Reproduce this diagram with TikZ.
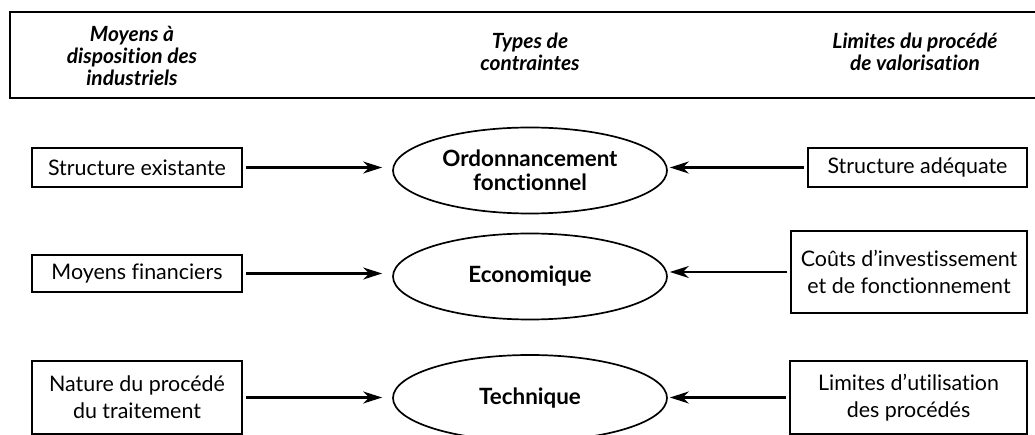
\documentclass[tikz,border=0pt]{standalone}
\usepackage{fontspec}
\setmainfont{Lato}[RawFeature={-liga;-clig;-dlig;-calt}]
\usetikzlibrary{arrows.meta,shapes.geometric}
\begin{document}
\begin{tikzpicture}[x=1bp,y=-1bp,
  box/.style={draw, line width=1.8bp, inner sep=0pt, align=center, font=\fontsize{21.5}{27}\selectfont},
  ell/.style={ellipse, draw, line width=1.7bp, minimum width=274bp, minimum height=86bp, inner sep=0pt, align=center, font=\bfseries\fontsize{22.5}{24}\selectfont},
  hdr/.style={align=center, font=\bfseries\itshape\fontsize{21}{22.5}\selectfont, inner sep=0pt},
  arr/.style={line width=2.4bp, -{Stealth[length=19bp,width=12bp,inset=6bp]}, shorten <=3bp}
]
\useasboundingbox (0,0) rectangle (1035,435);
\clip (0,0) rectangle (1035,435);

% header frame
\draw[line width=2.7bp] (1035,12) -- (10,12) -- (10,98) -- (1035,98);
\node[hdr] (h1) at (132,56) {Moyens à\\disposition des\\industriels};
\node[hdr] (h2) at (530,52) {Types de\\contraintes};
\node[hdr] (h3) at (915,52) {Limites du procédé\\de valorisation};

% row 1
\node[box, minimum width=210bp, minimum height=39bp] (l1) at (137,167.5) {Structure existante};
\node[box, minimum width=219bp, minimum height=39bp] (r1) at (917.5,167.5) {Structure adéquate};
\node[ell] (e1) at (530,170.5) {Ordonnancement\\fonctionnel};
% row 2
\node[box, minimum width=210bp, minimum height=37bp] (l2) at (137,273.5) {Moyens financiers};
\node[box, minimum width=236bp, minimum height=82bp] (r2) at (909,272) {Coûts d’investissement\\et de fonctionnement};
\node[ell] (e2) at (530,276.5) {Economique};
% row 3
\node[box, minimum width=210bp, minimum height=73bp] (l3) at (137,397.5) {Nature du procédé\\du traitement};
\node[box, minimum width=237bp, minimum height=73bp] (r3) at (908.5,397.5) {Limites d’utilisation\\des procédés};
\node[ell] (e3) at (530,398) {Technique};

% arrows
\draw[arr, shorten >=10bp] (l1.east) -- (l1.east -| e1.west);
\draw[arr, shorten >=10bp] (l2.east) -- (l2.east -| e2.west);
\draw[arr, shorten >=10bp] (l3.east) -- (l3.east -| e3.west);
\draw[arr, shorten >=2bp] (r1.west) -- (r1.west -| e1.east);
\draw[arr, shorten >=2bp] (r2.west) -- (r2.west -| e2.east);
\draw[arr, shorten >=2bp] (r3.west) -- (r3.west -| e3.east);
\end{tikzpicture}
\end{document}
